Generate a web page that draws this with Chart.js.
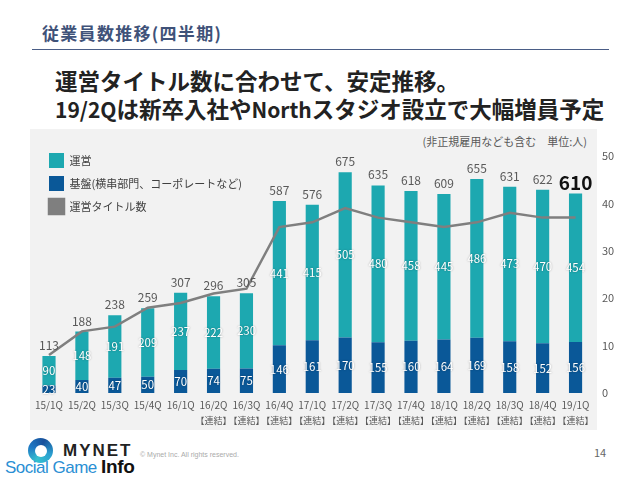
<!DOCTYPE html>
<html lang="ja">
<head>
<meta charset="utf-8">
<script src="https://cdn.jsdelivr.net/npm/chart.js@4.4.1/dist/chart.umd.min.js"></script>
<style>
  body { margin: 0; width: 640px; height: 480px; background: #fff; position: relative; overflow: hidden;
         font-family: "Noto Sans CJK JP", "Noto Sans", sans-serif; }
  .head { position: absolute; left: 42px; top: 23px; font-size: 17px; line-height: 20px; font-weight: bold;
          color: #3f5279; letter-spacing: 1.3px; white-space: nowrap; }
  .rule { position: absolute; left: 32px; top: 49px; width: 577px; border-top: 1.5px solid #4a5d86; }
  .lead { position: absolute; left: 55px; top: 66px; font-size: 22.5px; line-height: 28px; font-weight: bold;
          color: #222; white-space: nowrap; }
  .lead span { font-size: 21px; }
  .panel { position: absolute; left: 30px; top: 129px; width: 567px; height: 301px; background: #f2f2f2; }
  .note { position: absolute; right: 53px; top: 133px; font-size: 11px; line-height: 16px; color: #595959; }
  #wrap { position: absolute; left: 30px; top: 129px; width: 600px; height: 303px; }
  .ring { position: absolute; left: 28px; top: 438px; width: 25px; height: 25px; border-radius: 50%;
          background: conic-gradient(from 200deg, #35c1cf, #1e78c4, #17509a, #2a9fd0, #35c1cf); }
  .hole { position: absolute; left: 34.5px; top: 444.5px; width: 12px; height: 12px; border-radius: 50%; background: #fff; }
  .mynet { position: absolute; left: 63px; top: 441px; font-family: "Liberation Sans", sans-serif; font-size: 17px;
           line-height: 20px; font-weight: bold; letter-spacing: 2px; color: #222; }
  .copy { position: absolute; left: 140px; top: 451px; font-family: "Liberation Sans", sans-serif; font-size: 7px; color: #aaa; }
  .sgi { position: absolute; left: 5px; top: 456px; font-family: "Liberation Sans", sans-serif; font-size: 17px;
         line-height: 22px; color: #2a8fd4; white-space: nowrap; letter-spacing: -0.5px; }
  .sgi b { color: #111; font-size: 19px; letter-spacing: -0.3px; }
  .page { position: absolute; left: 594px; top: 444px; font-size: 11px; line-height: 16px; color: #666; }
</style>
</head>
<body>
<div class="head">従業員数推移(四半期)</div>
<div class="rule"></div>
<div class="lead">運営タイトル数に合わせて、安定推移。<br><span>19/2Q</span>は新卒入社や<span>North</span>スタジオ設立で大幅増員予定</div>
<div class="panel"></div>
<div class="note">(非正規雇用なども含む　単位:人)</div>
<div id="wrap"><canvas id="staff-chart"></canvas></div>
<div class="ring"></div><div class="hole"></div>
<div class="mynet">MYNET</div>
<div class="copy">© Mynet Inc. All rights reserved.</div>
<div class="sgi">Social Game <b>Info</b></div>
<div class="page">14</div>

<script>
// 四半期ラベル
const quarters = ["15/1Q", "15/2Q", "15/3Q", "15/4Q", "16/1Q", "16/2Q", "16/3Q", "16/4Q", "17/1Q",
                  "17/2Q", "17/3Q", "17/4Q", "18/1Q", "18/2Q", "18/3Q", "18/4Q", "19/1Q"];
const consolidated = ["", "", "", "", "", "【連結】", "【連結】", "【連結】", "【連結】", "【連結】",
                      "【連結】", "【連結】", "【連結】", "【連結】", "【連結】", "【連結】", "【連結】"];
const baseStaff = [23, 40, 47, 50, 70, 74, 75, 146, 161, 170, 155, 160, 164, 169, 158, 152, 156];   // 基盤
const opsStaff = [90, 148, 191, 209, 237, 222, 230, 441, 415, 505, 480, 458, 445, 486, 473, 470, 454]; // 運営
const totalStaff = [113, 188, 238, 259, 307, 296, 305, 587, 576, 675, 635, 618, 609, 655, 631, 622, 610];
const titleCount = [8, 13, 14, 18, 19, 21, 22, 35, 36, 39, 37, 36, 35, 36, 38, 37, 37]; // 運営タイトル数
const rightTicks = [0, 10, 20, 30, 40, 50];
const legendOrder = [1, 0, 2];

const FONT = '"Noto Sans CJK JP", "Noto Sans", sans-serif';
Chart.defaults.font.family = FONT;

// 凡例をグラフ左上へ
const legendNudge = {
    id: 'legendNudge',
    afterLayout(chart) {
        const lg = chart.legend;
        lg.left = 11;
        lg.top = 16;
        lg.bottom = 250;
    }
};

// 数値ラベル
const valueLabels = {
    id: 'valueLabels',
    afterDatasetsDraw(chart) {
        const ctx = chart.ctx;
        const baseMeta = chart.getDatasetMeta(0);
        const opsMeta = chart.getDatasetMeta(1);
        ctx.save();
        ctx.textAlign = 'center';
        ctx.textBaseline = 'middle';
        ctx.font = '11.5px ' + FONT;
        ctx.fillStyle = '#fff';
        ctx.shadowColor = 'rgba(0,0,0,0.35)';
        ctx.shadowBlur = 2;
        baseMeta.data.forEach((bar, i) => {
            ctx.fillText(baseStaff[i], bar.x, (bar.y + bar.base) / 2);
        });
        opsMeta.data.forEach((bar, i) => {
            ctx.fillText(opsStaff[i], bar.x, (bar.y + bar.base) / 2);
        });
        ctx.shadowColor = 'transparent';
        ctx.shadowBlur = 0;
        ctx.textBaseline = 'alphabetic';
        opsMeta.data.forEach((bar, i) => {
            const last = i == totalStaff.length - 1;
            ctx.font = last ? 'bold 19px ' + FONT : '12px ' + FONT;
            ctx.fillStyle = last ? '#111' : '#595959';
            ctx.fillText(totalStaff[i], bar.x, bar.y - (last ? 4 : 6));
        });
        // 【連結】
        const xs = chart.scales.x;
        ctx.font = '9px ' + FONT;
        ctx.fillStyle = '#595959';
        ctx.textBaseline = 'middle';
        consolidated.forEach((t, i) => {
            if (t) ctx.fillText(t, xs.getPixelForTick(i), xs.top + 28);
        });
        ctx.restore();
    }
};

new Chart(document.getElementById('staff-chart'), {
    type: 'bar',
    data: {
        labels: quarters,
        datasets: [
            { label: '基盤(横串部門、コーポレートなど)', data: baseStaff, backgroundColor: '#0a5898',
              borderWidth: 0, barPercentage: 0.4, categoryPercentage: 1, order: 1 },
            { label: '運営', data: opsStaff, backgroundColor: '#1da8b0',
              borderWidth: 0, barPercentage: 0.4, categoryPercentage: 1, order: 1 },
            { type: 'line', label: '運営タイトル数', data: titleCount, yAxisID: 'y2',
              borderColor: '#7f7f7f', backgroundColor: '#7f7f7f', borderWidth: 2.5,
              pointRadius: 0, tension: 0, order: 0 }
        ]
    },
    options: {
        responsive: true,
        maintainAspectRatio: false,
        animation: false,
        layout: { padding: { top: 27, left: 0, right: 0, bottom: 0 } },
        plugins: {
            legend: {
                position: 'chartArea',
                align: 'start',
                labels: {
                    boxWidth: 15, boxHeight: 15, padding: 8, color: '#404040',
                    font: { size: 11 },
                    sort: (a, b) => legendOrder.indexOf(a.datasetIndex) - legendOrder.indexOf(b.datasetIndex)
                }
            },
            tooltip: { enabled: false }
        },
        scales: {
            x: {
                stacked: true,
                grid: { display: false, drawTicks: false },
                border: { display: false },
                ticks: { color: '#595959', font: { size: 10, lineHeight: 1.5 }, padding: 5,
                         autoSkip: false, maxRotation: 0, minRotation: 0 },
                afterFit(scale) { scale.height = 39; }
            },
            y: {
                stacked: true, display: false, min: 0, max: 725
            },
            y2: {
                position: 'right', min: 0, max: 50,
                grid: { display: false, drawTicks: false },
                border: { display: false },
                afterBuildTicks(scale) { scale.ticks = rightTicks.map(v => ({ value: v })); },
                ticks: { color: '#595959', font: { size: 11 }, padding: 10 },
                afterFit(scale) { scale.width = 38; }
            }
        }
    },
    plugins: [legendNudge, valueLabels]
});
</script>
</body>
</html>
